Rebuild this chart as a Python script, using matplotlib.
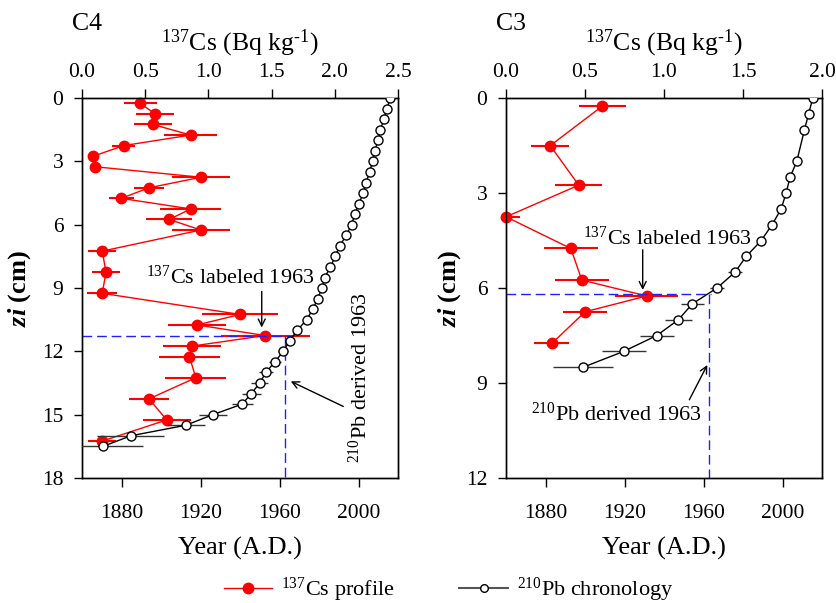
import numpy as np
import matplotlib
matplotlib.use("Agg")
import matplotlib.pyplot as plt
from matplotlib.lines import Line2D

plt.rcParams['font.family'] = ['Liberation Serif', 'DejaVu Serif']
plt.rcParams['mathtext.fontset'] = 'custom'
plt.rcParams['mathtext.rm'] = 'Liberation Serif'
plt.rcParams['mathtext.it'] = 'Liberation Serif:italic'
plt.rcParams['mathtext.bf'] = 'Liberation Serif:bold'
plt.rcParams['mathtext.bfit'] = 'Liberation Serif:italic:bold'

# core C4 : 137Cs activity profile
c4_cs_depth = [0.25, 0.75, 1.25, 1.75, 2.25, 2.75, 3.25, 3.75, 4.25, 4.75, 5.25, 5.75, 6.25,
               7.25, 8.25, 9.25, 10.25, 10.75, 11.25, 11.75, 12.25, 13.25, 14.25, 15.25, 16.25]
c4_cs = [0.46, 0.58, 0.56, 0.86, 0.33, 0.09, 0.10, 0.94, 0.53, 0.31, 0.86, 0.69, 0.94,
         0.16, 0.19, 0.16, 1.25, 0.91, 1.45, 0.87, 0.85, 0.90, 0.53, 0.67, 0.16]
c4_cs_err = [0.13, 0.15, 0.15, 0.21, 0.09, 0.03, 0.04, 0.23, 0.12, 0.10, 0.24, 0.18, 0.23,
             0.11, 0.11, 0.12, 0.30, 0.23, 0.35, 0.23, 0.24, 0.24, 0.16, 0.19, 0.11]

# core C4 : 210Pb chronology
c4_pb_depth = [0.0, 0.5, 1.0, 1.5, 2.0, 2.5, 3.0, 3.5, 4.0, 4.5, 5.0, 5.5, 6.0, 6.5, 7.0, 7.5, 8.0,
               8.5, 9.0, 9.5, 10.0, 10.5, 11.0, 11.5, 12.0, 12.5, 13.0, 13.5, 14.0, 14.5, 15.0,
               15.5, 16.0, 16.5]
c4_pb_year = [2015.9, 2014.5, 2012.8, 2011.1, 2009.8, 2008.3, 2007.1, 2005.6, 2003.9, 2002.4,
              2000.2, 1998.1, 1996.5, 1993.8, 1990.5, 1988.2, 1985.8, 1982.9, 1981.6, 1979.3,
              1976.9, 1973.7, 1969.0, 1965.1, 1961.9, 1957.6, 1953.1, 1950.0, 1945.7, 1941.1,
              1926.2, 1912.6, 1884.7, 1870.7]
c4_pb_err = [0.8, 0.8, 0.8, 0.8, 0.8, 0.8, 0.8, 0.8, 0.8, 0.8, 0.8, 0.8, 0.8, 0.8, 0.8, 0.8, 0.8,
             0.8, 1.0, 1.0, 1.2, 1.5, 1.5, 2.0, 2.5, 2.9, 3.5, 4.2, 4.9, 5.4, 7.2, 9.6, 17.0, 20.0]

# core C3 : 137Cs activity profile
c3_cs_depth = [0.25, 1.5, 2.75, 3.75, 4.75, 5.75, 6.25, 6.75, 7.75]
c3_cs = [0.61, 0.28, 0.46, 0.0, 0.41, 0.48, 0.89, 0.50, 0.29]
c3_cs_err = [0.15, 0.12, 0.15, 0.09, 0.17, 0.17, 0.20, 0.14, 0.11]

# core C3 : 210Pb chronology
c3_pb_depth = [0.0, 0.5, 1.0, 2.0, 2.5, 3.0, 3.5, 4.0, 4.5, 5.0, 5.5, 6.0, 6.5, 7.0, 7.5, 8.0, 8.5]
c3_pb_year = [2015.3, 2013.2, 2011.1, 2007.2, 2003.8, 2001.8, 1999.3, 1994.7, 1989.2, 1981.6,
              1975.9, 1966.8, 1954.3, 1947.3, 1936.3, 1919.6, 1899.1]
c3_pb_err = [0.8, 0.8, 0.8, 0.8, 0.8, 0.8, 1.2, 1.5, 2.0, 2.5, 3.4, 3.7, 5.9, 6.9, 8.6, 11.2, 15.3]

year_1963 = 1963
TICK_FS = 15.5
LABEL_FS = 19
NOTE_FS = 16


def draw_core(rect, name, cs_depth, cs, cs_err, pb_depth, pb_year, pb_err,
              cs_max, depth_max, depth_step, peak_depth, hline_end,
              cs_note, cs_arrow, pb_note, pb_arrow, pb_rot, pb_text, ylab_pad):
    ax = fig.add_axes(rect)
    ax_yr = ax.twiny()

    # Cs on the top axis
    ax.xaxis.tick_top()
    ax.xaxis.set_label_position('top')
    line, caps, bars = ax.errorbar(cs, cs_depth, xerr=cs_err, color='#ff0000', marker='o', ms=7.5,
                                   lw=1, elinewidth=1.5, capsize=0, zorder=3)
    line.set_clip_on(False)
    ax.set_xlim(0, cs_max)
    ax.set_xticks(np.arange(0, cs_max + 0.01, 0.5))
    ax.set_xticklabels([f"{v:.1f}" for v in np.arange(0, cs_max + 0.01, 0.5)])
    ax.set_xlabel(r'$^{137}$Cs (Bq kg$^{\text{-1}}$)', fontsize=18.5, labelpad=9)
    ax.set_ylim(depth_max, 0)
    ax.set_yticks(np.arange(0, depth_max + 0.01, depth_step))
    ax.set_ylabel(r'$\mathbfit{zi}$ (cm)', fontsize=LABEL_FS, fontweight='bold', labelpad=ylab_pad)
    ax.tick_params(axis='x', direction='out', length=6.5, width=1, labelsize=TICK_FS, pad=5,
                   top=True, bottom=False)
    ax.tick_params(axis='y', direction='out', length=5.5, width=1, labelsize=TICK_FS, pad=8,
                   left=True, right=False)

    # 210Pb on the bottom axis
    ax_yr.xaxis.tick_bottom()
    ax_yr.xaxis.set_label_position('bottom')
    ax_yr.errorbar(pb_year, pb_depth, xerr=pb_err, color='black', ecolor='#333333', marker='o',
                   ms=6.5, mfc='white', mec='black', mew=1, lw=1, elinewidth=1, capsize=0, zorder=3)
    ax_yr.set_xlim(1860, 2020)
    ax_yr.set_xticks([1880, 1920, 1960, 2000])
    ax_yr.set_xlabel('Year (A.D.)', fontsize=LABEL_FS, labelpad=10)
    ax_yr.tick_params(axis='x', direction='out', length=6.5, width=1, labelsize=TICK_FS, pad=12,
                      top=False, bottom=True)

    # 1963 markers
    ax_yr.plot([1860, hline_end], [peak_depth, peak_depth], color='#1f1fff', lw=1,
               dashes=(7, 3.5), zorder=2)
    ax_yr.plot([year_1963, year_1963], [peak_depth, depth_max], color='#1f1fff', lw=1,
               dashes=(7, 3.5), zorder=2)

    ax_yr.text(cs_note[0], cs_note[1], r'$^{137}$Cs labeled 1963', fontsize=NOTE_FS,
               ha='center', va='center')
    ax_yr.annotate('', xy=cs_arrow[1], xytext=cs_arrow[0],
                   arrowprops=dict(arrowstyle='->,head_length=0.5,head_width=0.25', lw=1,
                                   color='black', shrinkA=0, shrinkB=0))
    ax_yr.text(pb_note[0], pb_note[1], pb_text, fontsize=NOTE_FS,
               ha='center', va='center', rotation=pb_rot)
    ax_yr.annotate('', xy=pb_arrow[1], xytext=pb_arrow[0],
                   arrowprops=dict(arrowstyle='->,head_length=0.5,head_width=0.25', lw=1,
                                   color='black', shrinkA=0, shrinkB=0))

    for a in (ax, ax_yr):
        for s in a.spines.values():
            s.set_linewidth(1)
    fig.text(rect[0] - 0.012, 0.96, name, fontsize=18.5, ha='left', va='center')
    return ax, ax_yr


fig = plt.figure(figsize=(8.36, 6.03), dpi=100)

draw_core([0.0981, 0.2073, 0.378, 0.630], 'C4',
          c4_cs_depth, c4_cs, c4_cs_err, c4_pb_depth, c4_pb_year, c4_pb_err,
          2.5, 18, 3, 11.25, 1966,
          (1935.2, 8.5), ((1951.0, 9.16), (1951.0, 10.87)),
          (2000.8, 13.25), ((1992.3, 14.61), (1965.7, 13.42)), 90,
          r'$^{210}$Pb derived $\mathit{1963}$', 6)

draw_core([0.6053, 0.2073, 0.378, 0.630], 'C3',
          c3_cs_depth, c3_cs, c3_cs_err, c3_pb_depth, c3_pb_year, c3_pb_err,
          2.0, 12, 3, 6.2, 1964,
          (1941.8, 4.41), ((1929.2, 4.79), (1929.2, 6.06)),
          (1915.7, 9.98), ((1952.8, 9.53), (1961.9, 8.43)), 0,
          r'$^{210}$Pb derived 1963', 2)

handles = [Line2D([], [], color='#ff0000', marker='o', ms=7.5, lw=1),
           Line2D([], [], color='#555555', marker='o', ms=5.5, mfc='white', mec='black', lw=1.5)]
fig.legend(handles, [r'$^{137}$Cs profile', r'$^{210}$Pb chronology'], loc='center',
           bbox_to_anchor=(0.5365, 0.022), ncol=2, frameon=False, fontsize=16,
           handlelength=2.2, columnspacing=2.9, handletextpad=0.4)

fig.savefig('out.png', dpi=100)
